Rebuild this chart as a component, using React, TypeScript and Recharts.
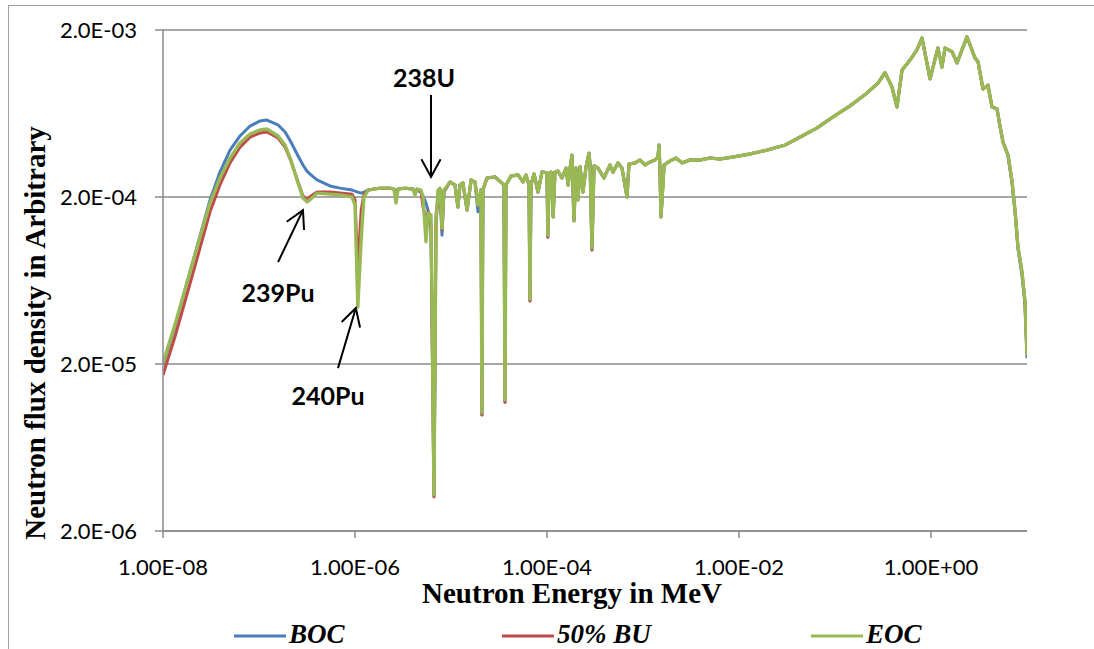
import { LineChart, Line, XAxis, YAxis, CartesianGrid, ReferenceLine } from 'recharts'

// neutron energy (MeV)
const energy = [
  1.00e-8, 1.33e-8, 1.91e-8, 2.43e-8, 3.09e-8, 3.92e-8, 4.99e-8, 6.34e-8, 8.06e-8, 1.02e-7,
  1.21e-7, 1.58e-7, 1.87e-7, 2.15e-7, 2.49e-7, 2.87e-7, 3.16e-7, 3.48e-7, 4.02e-7, 5.49e-7,
  6.98e-7, 9.31e-7, 1.00e-6, 1.07e-6, 1.16e-6, 1.24e-6, 1.37e-6, 1.82e-6, 2.32e-6, 2.55e-6,
  2.67e-6, 2.81e-6, 3.32e-6, 4.02e-6, 4.22e-6, 4.42e-6, 4.87e-6, 5.11e-6, 5.49e-6, 5.76e-6,
  6.19e-6, 6.65e-6, 6.98e-6, 7.33e-6, 7.68e-6, 8.06e-6, 8.45e-6,
  9.77e-6, 1.10e-5, 1.18e-5, 1.24e-5, 1.33e-5, 1.47e-5, 1.62e-5, 1.78e-5, 1.91e-5, 2.05e-5,
  2.10e-5, 2.15e-5, 2.37e-5, 2.87e-5, 3.56e-5, 3.65e-5, 3.74e-5, 4.22e-5, 4.99e-5, 5.62e-5,
  6.04e-5, 6.49e-5, 6.65e-5, 6.81e-5, 7.33e-5, 8.06e-5, 8.87e-5, 1.00e-4, 1.02e-4, 1.05e-4,
  1.10e-4, 1.16e-4, 1.21e-4, 1.30e-4, 1.43e-4, 1.58e-4, 1.66e-4, 1.74e-4, 1.82e-4, 1.91e-4,
  2.00e-4, 2.10e-4, 2.21e-4, 2.37e-4, 2.55e-4, 2.74e-4, 2.81e-4, 2.94e-4, 3.09e-4, 3.40e-4,
  3.92e-4, 4.53e-4, 4.87e-4, 5.49e-4, 6.04e-4, 6.81e-4, 7.14e-4, 8.25e-4, 9.31e-4, 1.05e-3,
  1.18e-3, 1.33e-3, 1.43e-3, 1.47e-3, 1.50e-3, 1.54e-3, 1.66e-3, 1.91e-3, 2.21e-3, 2.55e-3,
  3.09e-3, 3.92e-3, 4.99e-3, 6.34e-3, 8.66e-3, 1.30e-2, 1.96e-2, 3.01e-2, 4.32e-2, 6.49e-2,
  9.52e-2, 0.143, 0.215, 0.281, 0.332, 0.392, 0.442, 0.499, 0.604, 0.714,
  0.806, 0.977, 1.18, 1.30, 1.40, 1.66, 1.87, 2.10, 2.37, 2.55,
  2.87, 3.09, 3.48, 3.92, 4.32, 4.87, 5.23, 5.62, 6.34, 6.98,
  7.50, 8.06, 8.87, 9.52, 10.0,
]

const boc = [
  1.97e-5, 3.33e-5, 7.11e-5, 1.17e-4, 1.92e-4, 2.82e-4, 3.82e-4, 4.64e-4, 5.32e-4, 5.70e-4,
  5.78e-4, 5.40e-4, 4.90e-4, 4.27e-4, 3.62e-4, 3.11e-4, 2.86e-4, 2.71e-4, 2.53e-4, 2.33e-4,
  2.26e-4, 2.20e-4, 2.17e-4, 2.14e-4, 2.11e-4, 2.14e-4, 2.20e-4, 2.26e-4, 2.26e-4, 2.23e-4,
  2.14e-4, 2.23e-4, 2.26e-4, 2.23e-4, 2.14e-4, 2.20e-4, 2.14e-4, 2.03e-4, 1.84e-4, 1.67e-4,
  1.27e-4, 3.24e-6, 1.56e-4, 1.92e-4, 2.14e-4, 1.18e-4, 2.14e-4,
  2.46e-4, 2.36e-4, 1.74e-4, 2.36e-4, 2.43e-4, 1.67e-4, 2.53e-4, 2.46e-4, 1.63e-4, 2.20e-4,
  9.91e-6, 2.20e-4, 2.60e-4, 2.64e-4, 2.36e-4, 1.18e-5, 2.36e-4, 2.67e-4, 2.71e-4, 2.46e-4,
  2.71e-4, 2.36e-4, 4.77e-5, 2.36e-4, 2.75e-4, 2.14e-4, 2.82e-4, 2.79e-4, 1.15e-4, 2.71e-4,
  2.82e-4, 1.52e-4, 2.82e-4, 2.86e-4, 2.60e-4, 2.98e-4, 2.36e-4, 2.98e-4, 3.56e-4, 1.44e-4,
  2.98e-4, 1.92e-4, 3.03e-4, 2.14e-4, 3.03e-4, 3.66e-4, 3.11e-4, 9.64e-5, 3.07e-4, 2.98e-4,
  2.60e-4, 3.11e-4, 2.82e-4, 3.20e-4, 2.98e-4, 2.00e-4, 3.15e-4, 3.20e-4, 3.33e-4, 3.11e-4,
  3.24e-4, 3.33e-4, 3.47e-4, 4.09e-4, 2.98e-4, 1.52e-4, 3.11e-4, 3.29e-4, 3.42e-4, 3.20e-4,
  3.33e-4, 3.33e-4, 3.42e-4, 3.38e-4, 3.47e-4, 3.62e-4, 3.82e-4, 4.09e-4, 4.57e-4, 5.18e-4,
  6.03e-4, 7.01e-4, 8.38e-4, 9.63e-4, 1.11e-3, 9.11e-4, 6.92e-4, 1.15e-3, 1.32e-3, 1.52e-3,
  1.79e-3, 1.02e-3, 1.56e-3, 1.20e-3, 1.56e-3, 1.48e-3, 1.27e-3, 1.52e-3, 1.82e-3, 1.63e-3,
  1.36e-3, 1.29e-3, 8.86e-4, 9.36e-4, 6.92e-4, 6.73e-4, 5.32e-4, 4.27e-4, 3.56e-4, 2.43e-4,
  1.63e-4, 9.77e-5, 6.80e-5, 4.58e-5, 2.17e-5,
]

const bu50 = [
  1.72e-5, 2.90e-5, 6.03e-5, 9.91e-5, 1.63e-4, 2.36e-4, 3.20e-4, 3.98e-4, 4.57e-4, 4.83e-4,
  4.90e-4, 4.51e-4, 3.98e-4, 3.29e-4, 2.56e-4, 2.03e-4, 1.92e-4, 2.03e-4, 2.14e-4, 2.14e-4,
  2.11e-4, 2.08e-4, 1.92e-4, 7.52e-5, 1.67e-4, 2.08e-4, 2.20e-4, 2.26e-4, 2.26e-4, 2.23e-4,
  2.03e-4, 2.23e-4, 2.26e-4, 2.23e-4, 2.11e-4, 2.23e-4, 2.17e-4, 1.74e-4, 1.46e-4, 1.63e-4,
  1.36e-4, 3.20e-6, 1.36e-4, 2.14e-4, 2.23e-4, 1.27e-4, 2.17e-4,
  2.46e-4, 2.36e-4, 1.74e-4, 2.36e-4, 2.43e-4, 1.67e-4, 2.53e-4, 2.46e-4, 1.79e-4, 2.20e-4,
  9.91e-6, 2.20e-4, 2.60e-4, 2.64e-4, 2.36e-4, 1.18e-5, 2.36e-4, 2.67e-4, 2.71e-4, 2.46e-4,
  2.71e-4, 2.36e-4, 4.77e-5, 2.36e-4, 2.75e-4, 2.14e-4, 2.82e-4, 2.79e-4, 1.15e-4, 2.71e-4,
  2.82e-4, 1.52e-4, 2.82e-4, 2.86e-4, 2.60e-4, 2.98e-4, 2.36e-4, 2.98e-4, 3.56e-4, 1.44e-4,
  2.98e-4, 1.92e-4, 3.03e-4, 2.14e-4, 3.03e-4, 3.66e-4, 3.11e-4, 9.64e-5, 3.07e-4, 2.98e-4,
  2.60e-4, 3.11e-4, 2.82e-4, 3.20e-4, 2.98e-4, 2.00e-4, 3.15e-4, 3.20e-4, 3.33e-4, 3.11e-4,
  3.24e-4, 3.33e-4, 3.47e-4, 4.09e-4, 2.98e-4, 1.52e-4, 3.11e-4, 3.29e-4, 3.42e-4, 3.20e-4,
  3.33e-4, 3.33e-4, 3.42e-4, 3.38e-4, 3.47e-4, 3.62e-4, 3.82e-4, 4.09e-4, 4.57e-4, 5.18e-4,
  6.03e-4, 7.01e-4, 8.38e-4, 9.63e-4, 1.11e-3, 9.11e-4, 6.92e-4, 1.15e-3, 1.32e-3, 1.52e-3,
  1.79e-3, 1.02e-3, 1.56e-3, 1.20e-3, 1.56e-3, 1.48e-3, 1.27e-3, 1.52e-3, 1.82e-3, 1.63e-3,
  1.36e-3, 1.29e-3, 8.86e-4, 9.36e-4, 6.92e-4, 6.73e-4, 5.32e-4, 4.27e-4, 3.56e-4, 2.49e-4,
  1.67e-4, 1.00e-4, 7.11e-5, 4.77e-5, 2.26e-5,
]

const eoc = [
  2.03e-5, 3.43e-5, 7.11e-5, 1.15e-4, 1.84e-4, 2.60e-4, 3.42e-4, 4.21e-4, 4.77e-4, 5.04e-4,
  5.11e-4, 4.64e-4, 4.09e-4, 3.33e-4, 2.53e-4, 1.97e-4, 1.87e-4, 1.95e-4, 2.11e-4, 2.08e-4,
  2.06e-4, 2.00e-4, 1.79e-4, 4.39e-5, 1.11e-4, 2.00e-4, 2.20e-4, 2.26e-4, 2.26e-4, 2.23e-4,
  1.84e-4, 2.23e-4, 2.26e-4, 2.23e-4, 2.06e-4, 2.23e-4, 2.20e-4, 2.00e-4, 1.08e-4, 1.60e-4,
  1.56e-4, 3.29e-6, 1.46e-4, 2.20e-4, 2.26e-4, 1.30e-4, 2.20e-4,
  2.46e-4, 2.36e-4, 1.74e-4, 2.36e-4, 2.43e-4, 1.67e-4, 2.53e-4, 2.46e-4, 1.79e-4, 2.20e-4,
  1.02e-5, 2.20e-4, 2.60e-4, 2.64e-4, 2.36e-4, 1.22e-5, 2.36e-4, 2.67e-4, 2.71e-4, 2.46e-4,
  2.71e-4, 2.36e-4, 4.90e-5, 2.36e-4, 2.75e-4, 2.14e-4, 2.82e-4, 2.79e-4, 1.18e-4, 2.71e-4,
  2.82e-4, 1.52e-4, 2.82e-4, 2.86e-4, 2.60e-4, 2.98e-4, 2.36e-4, 2.98e-4, 3.56e-4, 1.44e-4,
  2.98e-4, 1.92e-4, 3.03e-4, 2.14e-4, 3.03e-4, 3.66e-4, 3.11e-4, 9.91e-5, 3.07e-4, 2.98e-4,
  2.60e-4, 3.11e-4, 2.82e-4, 3.20e-4, 2.98e-4, 2.00e-4, 3.15e-4, 3.20e-4, 3.33e-4, 3.11e-4,
  3.24e-4, 3.33e-4, 3.47e-4, 4.09e-4, 2.98e-4, 1.52e-4, 3.11e-4, 3.29e-4, 3.42e-4, 3.20e-4,
  3.33e-4, 3.33e-4, 3.42e-4, 3.38e-4, 3.47e-4, 3.62e-4, 3.82e-4, 4.09e-4, 4.57e-4, 5.18e-4,
  6.03e-4, 7.01e-4, 8.38e-4, 9.63e-4, 1.11e-3, 9.11e-4, 6.92e-4, 1.15e-3, 1.32e-3, 1.52e-3,
  1.79e-3, 1.02e-3, 1.56e-3, 1.20e-3, 1.56e-3, 1.48e-3, 1.27e-3, 1.52e-3, 1.82e-3, 1.63e-3,
  1.36e-3, 1.29e-3, 8.86e-4, 9.36e-4, 6.92e-4, 6.73e-4, 5.32e-4, 4.27e-4, 3.56e-4, 2.49e-4,
  1.67e-4, 1.00e-4, 7.11e-5, 4.77e-5, 2.26e-5,
]

const xTicks = [1e-8, 1e-6, 1e-4, 1e-2, 1]
const yTicks = [2e-6, 2e-5, 2e-4, 2e-3]
const seriesNames = ['BOC', '50% BU', 'EOC']

// resonance call-outs: tail and tip of each arrow in data units
const callouts = [
  { label: '238U', tail: { x: 6.19e-6, y: 8.17e-4 }, tip: { x: 6.19e-6, y: 2.64e-4 }, dx: -7, dy: -8 },
  { label: '239Pu', tail: { x: 1.58e-7, y: 8.16e-5 }, tip: { x: 2.87e-7, y: 1.67e-4 }, dx: 0, dy: 40 },
  { label: '240Pu', tail: { x: 6.65e-7, y: 1.89e-5 }, tip: { x: 1.02e-6, y: 4.33e-5 }, dx: -10, dy: 37 },
]

const data = energy.map((e, i) => ({ e, boc: boc[i], bu50: bu50[i], eoc: eoc[i] }))

const GRID = '#8a8a8a'
const COLORS = ['#4a7ebb', '#be4b48', '#98b954']

function sci(v: number, digits: number) {
  const [m, ex] = v.toExponential(digits).split('e')
  const n = Number(ex)
  return `${m}E${n < 0 ? '-' : '+'}${String(Math.abs(n)).padStart(2, '0')}`
}

function arrow(label: string, dx: number, dy: number) {
  return (p: any) => {
    const { x1, y1, x2, y2 } = p
    const ang = Math.atan2(y2 - y1, x2 - x1)
    const len = 20
    const spread = 0.5
    const w1x = x2 + len * Math.cos(ang + Math.PI - spread)
    const w1y = y2 + len * Math.sin(ang + Math.PI - spread)
    const w2x = x2 + len * Math.cos(ang + Math.PI + spread)
    const w2y = y2 + len * Math.sin(ang + Math.PI + spread)
    return (
      <g>
        <line x1={x1} y1={y1} x2={x2} y2={y2} stroke="#000" strokeWidth={2} />
        <polyline points={`${w1x},${w1y} ${x2},${y2} ${w2x},${w2y}`} fill="none" stroke="#000" strokeWidth={2} />
        <text x={x1 + dx} y={y1 + dy} textAnchor="middle" fontFamily="Lato" fontWeight={700} fontSize={25} fill="#000">
          {label}
        </text>
      </g>
    )
  }
}

const tickStyle = { fill: '#000', fontSize: 22, fontFamily: 'Lato' }

export default function App() {
  const legendX = [234, 502, 811]
  return (
    <div style={{ position: 'absolute', left: 0, top: 0, width: 1094, height: 649, overflow: 'hidden', background: '#fff' }}>
      <div style={{ position: 'absolute', left: 8, top: 5, width: 1120, height: 700, border: '1px solid #a0a0a0' }} />
      <LineChart
        width={1094}
        height={649}
        data={data}
        margin={{ top: 30, right: 67, bottom: 58, left: 73 }}
        style={{ position: 'absolute', left: 0, top: 0 }}
      >
        <CartesianGrid vertical={false} stroke={GRID} strokeWidth={1.5} />
        <XAxis
          dataKey="e"
          type="number"
          scale="log"
          domain={[1e-8, 10]}
          ticks={xTicks}
          tickFormatter={(v: number) => sci(v, 2)}
          tick={tickStyle}
          axisLine={{ stroke: GRID, strokeWidth: 1.5 }}
          tickLine={{ stroke: GRID, strokeWidth: 1.5 }}
          tickSize={7}
          tickMargin={21}
          height={60}
          allowDataOverflow
        />
        <YAxis
          type="number"
          scale="log"
          domain={[2e-6, 2e-3]}
          ticks={yTicks}
          tickFormatter={(v: number) => sci(v, 1)}
          tick={tickStyle}
          axisLine={{ stroke: GRID, strokeWidth: 1.5 }}
          tickLine={{ stroke: GRID, strokeWidth: 1.5 }}
          tickSize={8}
          tickMargin={18}
          width={90}
          allowDataOverflow
        />
        <Line type="linear" dataKey="boc" name={seriesNames[0]} stroke={COLORS[0]} strokeWidth={3}
          dot={false} activeDot={false} isAnimationActive={false} strokeLinejoin="round" />
        <Line type="linear" dataKey="bu50" name={seriesNames[1]} stroke={COLORS[1]} strokeWidth={3}
          dot={false} activeDot={false} isAnimationActive={false} strokeLinejoin="round" />
        <Line type="linear" dataKey="eoc" name={seriesNames[2]} stroke={COLORS[2]} strokeWidth={3.4}
          dot={false} activeDot={false} isAnimationActive={false} strokeLinejoin="round" />
        {callouts.map((c) => (
          <ReferenceLine
            key={c.label}
            segment={[c.tail, c.tip]}
            ifOverflow="visible"
            shape={arrow(c.label, c.dx, c.dy)}
          />
        ))}
      </LineChart>
      <svg width={1094} height={649} style={{ position: 'absolute', left: 0, top: 0, pointerEvents: 'none' }}>
        <text
          transform="translate(45,333) rotate(-90)"
          textAnchor="middle"
          fontFamily="Liberation Serif"
          fontWeight={700}
          fontSize={29}
          fill="#000"
        >
          Neutron flux density in Arbitrary
        </text>
        <text x={572} y={603} textAnchor="middle" fontFamily="Liberation Serif" fontWeight={700} fontSize={29} fill="#000">
          Neutron Energy in MeV
        </text>
        {seriesNames.map((name, i) => (
          <g key={name}>
            <line x1={legendX[i]} x2={legendX[i] + 52} y1={636} y2={636} stroke={COLORS[i]} strokeWidth={3} />
            <text x={legendX[i] + 55} y={643} fontFamily="Liberation Serif" fontWeight={700} fontStyle="italic" fontSize={27} fill="#000">
              {name}
            </text>
          </g>
        ))}
      </svg>
    </div>
  )
}
